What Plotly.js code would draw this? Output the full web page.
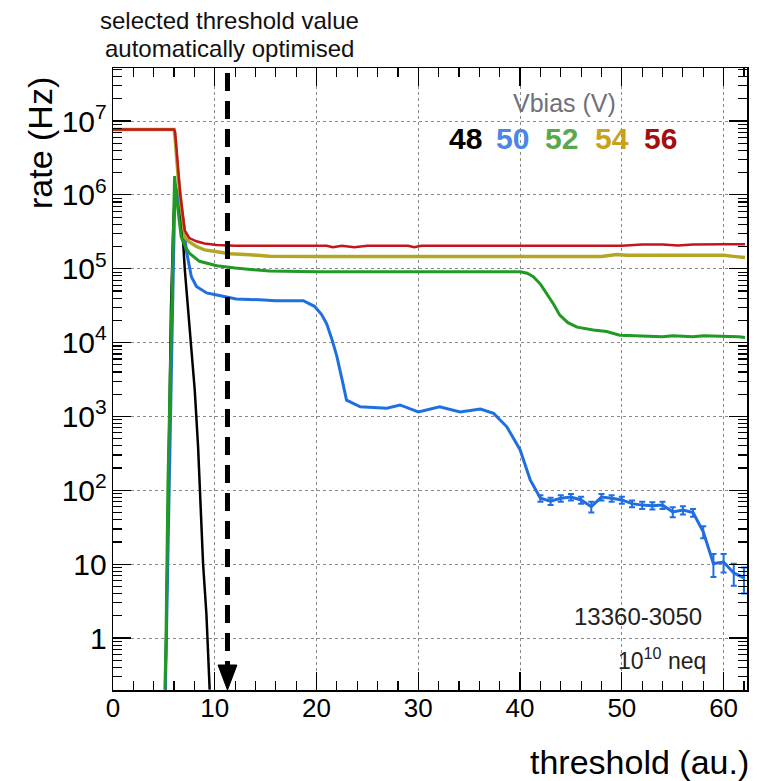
<!DOCTYPE html>
<html>
<head>
<meta charset="utf-8">
<script src="https://cdn.plot.ly/plotly-3.0.1.min.js"></script>
<style>html,body{margin:0;padding:0;background:#fff;}#chart{width:757px;height:781px;}</style>
</head>
<body>
<div id="chart"></div>
<script>
// ---- data (threshold in a.u., rate in Hz) ----
const vbiasLabels = ["48", "50", "52", "54", "56"];

const thr48 = [5.15, 5.4, 5.7, 5.95, 6.1, 6.5, 6.9, 7.05, 7.3, 7.54, 8.03, 8.36, 8.59, 8.85, 9.18, 9.34, 9.5];
const rate48 = [0.2, 100, 3e4, 5e5, 1.1e6, 7e5, 2.2e5, 1.0e5, 4e4, 1.5e4, 2.3e3, 390, 81, 10.2, 2.1, 0.46, 0.2];

const thr50 = [5.15, 5.3, 5.5, 5.7, 5.9, 6.1, 6.41, 6.9, 7.2, 7.7, 8.2, 9.2, 10.2, 12.1, 14.4, 16, 18.7, 19.8, 20.5, 21, 21.5, 22, 22.5, 22.95, 24.3, 25.5, 26.9, 28.2, 30, 32.1, 34.1, 36.1, 37.4, 38.7, 40, 41, 42, 43, 44, 45, 46, 47, 48, 49, 50, 51, 52, 53, 54, 55, 56, 57, 58, 59, 60, 61, 62];
const rate50 = [0.2, 3.2, 100, 3200, 6.3e4, 1.4e6, 9.3e5, 4.6e5, 1.78e5, 7.8e4, 5.75e4, 4.7e4, 4.4e4, 3.9e4, 3.8e4, 3.7e4, 3.7e4, 3.1e4, 2.4e4, 1.8e4, 1.12e4, 6500, 3200, 1660, 1350, 1320, 1290, 1430, 1150, 1350, 1150, 1260, 1100, 724, 355, 138, 78, 71, 78, 81, 74, 60, 81, 78, 74, 66, 63, 62, 63, 51, 54, 50, 27.5, 10.2, 10.7, 7.6, 6.5];
const errThr50 = [42, 43, 44, 45, 46, 47, 48, 49, 50, 51, 52, 53, 54, 55, 56, 57, 58, 59, 60, 61, 62];
const errRate50 = [8, 8, 8, 8, 8, 10, 8, 8, 8, 7, 7, 7, 7, 8, 7, 6, 5, 3.5, 3, 2.5, 2.5];

const thr52 = [5.1, 5.2, 5.4, 5.6, 5.8, 5.95, 6.05, 6.3, 6.7, 7.1, 7.5, 8.5, 10.2, 12, 13.4, 15.4, 20, 30, 40, 40.7, 41.3, 42, 42.6, 43.3, 43.9, 44.7, 45.6, 47.2, 48.5, 49.8, 52, 54, 55, 57, 58, 60, 61.5, 62.1];
const rate52 = [0.2, 0.8, 126, 3200, 3.2e4, 7.9e5, 1.8e6, 7.9e5, 2.7e5, 2.0e5, 1.62e5, 1.26e5, 1.1e5, 1.02e5, 9.8e4, 9.3e4, 9.1e4, 9.1e4, 9.1e4, 8.7e4, 7.8e4, 6.2e4, 4.7e4, 3.3e4, 2.35e4, 1.86e4, 1.62e4, 1.48e4, 1.41e4, 1.26e4, 1.23e4, 1.20e4, 1.24e4, 1.20e4, 1.24e4, 1.23e4, 1.20e4, 1.17e4];

const thr54 = [0, 2, 4, 6.0, 6.1, 6.4, 7.05, 7.5, 8.2, 9, 10.2, 11.5, 13.4, 15.4, 20, 30, 40, 48, 49.5, 50.5, 52, 55, 60, 61, 62.1];
const rate54 = [7.7e6, 7.7e6, 7.7e6, 7.7e6, 6e6, 1.8e6, 2.7e5, 2.3e5, 2.0e5, 1.8e5, 1.7e5, 1.6e5, 1.55e5, 1.48e5, 1.47e5, 1.47e5, 1.47e5, 1.47e5, 1.56e5, 1.52e5, 1.52e5, 1.52e5, 1.52e5, 1.47e5, 1.42e5];

const thr56 = [0, 2, 4, 6.0, 6.1, 6.6, 7.05, 7.5, 8.2, 9, 10.2, 12, 15.4, 18, 21, 21.6, 22.5, 23.7, 25, 29, 29.6, 30.3, 35, 40, 45, 50, 52, 54, 55.5, 57, 60, 62.1];
const rate56 = [7.7e6, 7.7e6, 7.7e6, 7.7e6, 7.1e6, 1.05e6, 3.3e5, 2.6e5, 2.35e5, 2.2e5, 2.1e5, 2.05e5, 2.05e5, 2.05e5, 2.05e5, 1.96e5, 2.05e5, 1.96e5, 2.05e5, 2.05e5, 1.95e5, 2.05e5, 2.05e5, 2.05e5, 2.05e5, 2.05e5, 2.13e5, 2.13e5, 2.06e5, 2.13e5, 2.15e5, 2.15e5];

const selectedThreshold = 11.25;

// ---- styles ----
const C48 = '#000000', C50 = '#1f6fe0', C52 = '#1f9a24', C54 = '#b3a624', C56 = '#c2161c';
const legendColors = ['#000000', '#4a86e8', '#5aa74c', '#c9a21c', '#a30f0f'];
const FONT = '"Liberation Sans", Arial, Helvetica, sans-serif';

const L = 113, R = 747, T = 68, B = 690;
const px = v => (v - L) / (R - L);
const py = v => (B - v) / (B - T);

const err50 = thr50.map(x => {
  const i = errThr50.indexOf(x);
  return i >= 0 ? errRate50[i] : NaN;
});

const traces = [
  {x: thr48, y: rate48, mode: 'lines', line: {color: C48, width: 2.5}},
  {x: thr50, y: rate50, mode: 'lines', line: {color: C50, width: 3},
   error_y: {type: 'data', array: err50, visible: true, color: C50, thickness: 2, width: 3}},
  {x: thr52, y: rate52, mode: 'lines', line: {color: C52, width: 3}},
  {x: thr54, y: rate54, mode: 'lines', line: {color: C54, width: 3.5}},
  {x: thr56, y: rate56, mode: 'lines', line: {color: C56, width: 2.5}}
];

const ann = [];
function txt(text, x, y, size, color, opts) {
  ann.push(Object.assign({text: text, xref: 'paper', yref: 'paper', x: px(x), y: py(y),
    showarrow: false, font: {family: FONT, size: size, color: color},
    xanchor: 'center', yanchor: 'middle'}, opts || {}));
}
txt('selected threshold value', 229, 20, 24, '#111');
txt('automatically optimised', 229, 48, 24, '#111');
txt('Vbias (V)', 564, 103, 25, '#6f6f7a');
const legX = [465, 512, 561, 612, 660];
vbiasLabels.forEach((lab, i) => txt('<b>' + lab + '</b>', legX[i], 138, 30, legendColors[i]));
txt('13360-3050', 704, 616, 24, '#222', {xanchor: 'right'});
txt('10<sup>10</sup> neq', 708, 659, 23, '#222', {xanchor: 'right'});
txt('threshold (au.)', 751, 762, 34, '#000', {xanchor: 'right'});
txt('rate (Hz)', 40, 143, 34, '#000', {textangle: -90});

const axisCommon = {
  showline: true, linecolor: '#000', linewidth: 1.5, mirror: 'ticks',
  ticks: 'inside', tickcolor: '#000', tickwidth: 1.2,
  showgrid: true, gridcolor: '#8a8a8a', griddash: 'dot', gridwidth: 1,
  zeroline: false, tickfont: {family: FONT, size: 26, color: '#000'}
};

const layout = {
  width: 757, height: 781,
  margin: {l: L, r: 757 - R, t: T, b: 781 - B},
  paper_bgcolor: '#fff', plot_bgcolor: '#fff',
  showlegend: false,
  xaxis: Object.assign({}, axisCommon, {
    range: [0, 62.3], tickmode: 'linear', tick0: 0, dtick: 10, ticklen: 18,
    ticklabelstandoff: -6,
    minor: {ticks: 'inside', dtick: 2, tick0: 0, ticklen: 9, tickcolor: '#000', showgrid: false}
  }),
  yaxis: Object.assign({}, axisCommon, {
    type: 'log', range: [-0.704, 7.718], dtick: 1, exponentformat: 'power', ticklen: 18,
    tickfont: {family: FONT, size: 24, color: '#000'},
    minor: {ticks: 'inside', dtick: 'D1', ticklen: 9, tickcolor: '#000', showgrid: false}
  }),
  annotations: ann,
  shapes: [
    {type: 'line', xref: 'x', yref: 'paper', x0: selectedThreshold, x1: selectedThreshold,
     y0: py(73), y1: py(668), line: {color: '#000', width: 5, dash: '18px,10px'}},
    {type: 'path', xref: 'x', yref: 'paper', fillcolor: '#000', line: {color: '#000', width: 1},
     path: 'M ' + (selectedThreshold - 0.93) + ',' + py(665) + ' L ' + (selectedThreshold + 0.93) + ',' + py(665) +
           ' L ' + selectedThreshold + ',' + py(690) + ' Z'}
  ]
};

Plotly.newPlot('chart', traces, layout, {displayModeBar: false, staticPlot: true});
</script>
</body>
</html>
